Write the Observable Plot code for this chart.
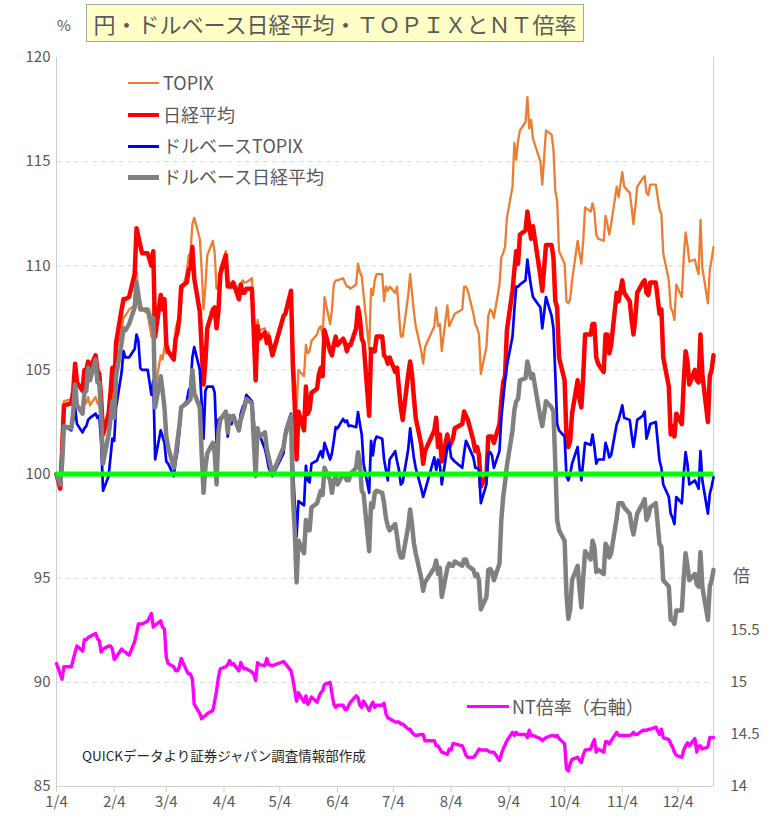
<!DOCTYPE html>
<html lang="ja">
<head>
<meta charset="utf-8">
<script src="https://cdn.jsdelivr.net/npm/d3@7"></script>
<script src="https://cdn.jsdelivr.net/npm/@observablehq/plot@0.6"></script>
<style>
html,body{margin:0;padding:0;background:#fff;}
#wrap{position:relative;width:775px;height:820px;overflow:hidden;font-family:"Noto Sans CJK JP","Noto Sans",sans-serif;color:#595959;}
#chart{position:absolute;left:0;top:0;}
.abs{position:absolute;white-space:nowrap;}
#title{left:86px;top:4px;width:498px;height:38px;box-sizing:border-box;background:#ffffc6;border:1px solid #a6a6a6;font-size:22px;line-height:36px;text-align:center;color:#595959;}
.lgline{position:absolute;}
.lgtext{position:absolute;font-size:18px;line-height:22px;color:#595959;white-space:nowrap;}
</style>
</head>
<body>
<div id="wrap">
  <div id="chart"></div>
  <div class="abs" id="title">円・ドルベース日経平均・ＴＯＰＩＸとＮＴ倍率</div>
  <div class="abs" style="left:57px;top:16px;font-size:15px;line-height:18px;">%</div>
  <div class="abs" style="left:733px;top:565px;font-size:17px;line-height:20px;">倍</div>
  <div class="abs" style="left:82px;top:747px;font-size:13.5px;line-height:16px;color:#262626;">QUICKデータより証券ジャパン調査情報部作成</div>
</div>
<script>
// ---- data (2021, % of 1/4 level; NT ratio in 倍) ----
const dates = [
"1/4","1/6","1/7","1/8","1/12","1/13","1/14","1/15","1/18","1/19","1/20","1/21","1/22","1/25","1/26","1/27","1/28","1/29",
"2/1","2/2","2/3","2/4","2/5","2/8","2/9","2/10","2/12","2/15","2/16","2/17","2/18","2/19","2/22","2/24","2/25","2/26",
"3/1","3/2","3/3","3/4","3/5","3/8","3/9","3/10","3/11","3/12","3/15","3/16","3/17","3/18","3/19","3/22","3/23","3/24","3/25","3/26","3/29","3/30","3/31",
"4/1","4/2","4/5","4/6","4/7","4/8","4/9","4/12","4/13","4/14","4/15","4/16","4/19","4/20","4/21","4/22","4/23","4/26","4/27","4/28","4/30",
"5/6","5/7","5/10","5/11","5/12","5/13","5/14","5/17","5/18","5/19","5/20","5/21","5/24","5/25","5/26","5/27","5/28","5/31",
"6/1","6/2","6/3","6/4","6/7","6/8","6/9","6/10","6/11","6/14","6/15","6/16","6/17","6/18","6/21","6/22","6/23","6/24","6/25","6/28","6/29","6/30",
"7/1","7/2","7/5","7/6","7/7","7/8","7/9","7/12","7/13","7/14","7/15","7/16","7/19","7/20","7/21","7/26","7/27","7/28","7/29","7/30",
"8/2","8/3","8/4","8/5","8/6","8/10","8/11","8/12","8/13","8/16","8/17","8/18","8/19","8/20","8/23","8/24","8/25","8/26","8/27","8/30","8/31",
"9/1","9/2","9/3","9/6","9/7","9/8","9/9","9/10","9/13","9/14","9/15","9/16","9/17","9/21","9/22","9/24","9/27","9/28","9/29","9/30",
"10/1","10/4","10/5","10/6","10/7","10/8","10/11","10/12","10/13","10/14","10/15","10/18","10/19","10/20","10/21","10/22","10/25","10/26","10/27","10/28","10/29",
"11/1","11/2","11/4","11/5","11/8","11/9","11/10","11/11","11/12","11/15","11/16","11/17","11/18","11/19","11/22","11/24","11/25","11/26","11/29","11/30",
"12/1","12/2","12/3","12/6","12/7","12/8","12/9","12/10","12/13","12/14","12/15","12/16","12/17","12/20","12/21","12/22","12/23"
];
const topix = [
100,100.0,102.0,103.5,103.6,103.7,104.5,103.2,103.2,103.4,103.4,103.7,103.3,103.7,103.4,103.3,102.9,101.0,
101.8,102.7,104.1,103.7,105.9,106.9,107.5,107.6,107.9,108.1,109.7,108.7,108.3,107.9,107.7,106.6,108.2,104.1,
105.7,105.5,106.1,105.8,105.9,105.7,107.0,107.3,107.7,108.6,109.7,110.5,110.6,112.0,112.3,111.3,109.8,107.9,109.0,110.5,111.2,110.6,108.9,
108.9,109.9,110.7,109.6,108.9,109.2,109.1,108.9,109.1,109.3,109.2,109.2,109.4,107.5,105.6,107.4,106.9,107.0,106.3,106.8,106.0,
107.5,107.8,108.8,106.2,104.6,103.2,105.0,104.7,106.2,105.8,105.9,106.4,106.7,107.0,107.1,106.6,108.5,107.2,
107.9,109.1,109.3,109.3,109.4,109.2,109.0,109.0,108.9,109.1,110.1,109.7,109.5,108.6,106.0,108.9,108.6,109.3,109.6,109.6,108.3,109.0,
108.8,109.0,108.7,109.0,107.7,106.6,106.6,108.6,109.6,108.7,107.8,107.1,105.9,105.3,106.1,107.1,108.0,107.1,107.2,105.9,
108.1,107.1,107.3,107.5,107.7,107.9,109.0,109.0,108.8,107.7,107.2,107.0,106.7,104.8,106.1,107.6,107.9,107.8,107.5,109.1,110.4,
110.6,110.9,112.3,113.8,115.9,115.1,116.0,116.5,116.9,118.1,116.6,117.0,116.1,115.0,113.9,116.5,116.3,115.6,113.6,113.1,
110.7,110.1,108.3,108.2,108.4,109.3,111.2,110.6,110.1,111.2,112.8,112.6,113.0,112.6,111.5,111.3,111.2,112.4,112.0,111.5,112.0,
113.8,113.3,114.5,113.8,113.5,112.8,112.0,112.8,113.8,114.2,114.3,113.5,113.4,113.9,113.9,112.7,112.5,110.6,109.3,108.0,
107.8,107.4,109.1,108.5,110.4,111.6,111.0,110.2,110.3,109.9,109.6,112.2,109.9,108.2,109.8,110.3,110.9
];
const nikkei = [
100,99.3,101.0,103.3,103.4,104.0,105.3,104.4,104.0,105.0,105.0,105.4,105.1,105.7,105.0,104.8,103.6,101.9,
102.9,103.9,105.1,104.0,106.3,107.9,108.4,108.4,108.5,109.6,111.8,111.4,111.0,110.6,110.6,110.0,110.7,106.6,
108.6,107.9,108.4,106.2,105.9,105.5,106.5,106.8,107.5,109.0,109.2,109.8,109.9,110.9,109.4,107.8,106.0,104.3,105.4,107.0,107.9,108.0,107.0,
107.8,109.6,110.5,109.0,109.1,109.0,109.2,108.4,109.1,108.7,108.7,108.9,108.9,106.8,104.5,107.1,106.5,106.8,106.3,106.6,105.7,
107.6,107.7,108.8,105.2,103.3,100.7,103.0,102.1,104.2,102.9,103.1,103.9,104.1,104.8,105.1,104.7,106.9,105.9,
105.7,106.2,106.6,106.2,106.5,106.3,105.9,106.2,106.2,107.0,108.0,107.5,106.5,106.3,102.8,106.0,105.9,105.9,106.6,106.6,105.7,105.6,
105.3,105.6,104.9,105.1,104.1,103.2,102.6,104.8,105.4,104.8,103.7,102.7,101.4,100.5,101.1,102.1,102.7,101.3,101.9,100.6,
101.9,101.3,101.5,101.7,102.2,102.4,103.0,102.8,102.6,101.6,101.1,101.3,100.9,99.4,99.9,101.8,101.8,101.8,101.5,102.4,103.5,
104.4,104.7,106.9,108.8,109.8,110.7,110.1,111.5,111.7,112.6,111.9,111.3,111.9,109.5,108.8,111.0,111.0,110.4,108.3,108.0,
105.6,104.5,101.8,101.3,101.6,102.9,104.5,103.6,103.2,104.7,106.7,106.7,107.2,107.2,105.6,105.3,104.9,106.7,106.7,105.8,106.2,
108.7,108.3,109.3,108.7,108.3,107.4,106.7,107.5,108.7,109.2,109.3,108.7,108.6,109.2,109.2,107.7,107.9,105.6,104.2,101.9,
102.3,101.8,102.9,102.4,104.4,105.9,105.4,104.3,105.0,104.5,104.4,106.7,104.8,102.5,104.7,105.0,105.7
];
const usdTopix = [
100,99.5,100.5,102.3,102.1,102.6,103.2,102.4,102.0,102.2,102.3,102.6,102.7,102.9,102.7,102.8,101.5,99.2,
99.9,100.8,101.7,101.6,103.2,104.9,105.9,105.6,105.6,106.0,106.7,106.4,105.1,105.0,105.0,103.8,104.5,100.7,
102.1,101.8,101.5,100.6,100.5,99.9,100.6,101.1,102.0,103.2,103.5,104.0,104.2,105.6,106.1,105.0,103.4,101.7,104.0,104.2,104.2,103.9,101.5,
102.6,102.7,102.9,101.8,102.7,102.4,102.8,102.2,102.9,103.2,103.4,103.8,103.5,102.6,100.8,102.0,101.9,101.2,100.8,100.3,99.9,
101.0,102.1,102.9,100.4,98.6,97.0,98.7,98.5,100.4,99.7,99.6,100.5,100.65,100.9,101.1,100.8,101.5,100.7,
101.0,101.6,102.25,102.2,102.65,102.5,102.57,102.3,102.33,102.25,102.97,102.4,101.9,100.5,99.1,101.6,100.9,101.6,101.8,101.7,100.7,100.2,
99.7,100.7,101.1,100.6,100.2,99.5,99.6,101.2,102.2,101.5,100.8,100.3,99.3,98.9,99.2,100.8,100.2,100.7,100.4,99.5,
101.3,101.5,100.8,100.7,100.6,100.3,101.0,101.6,101.4,100.8,100.3,100.3,100.2,98.6,99.5,101.0,101.05,100.9,100.3,101.1,102.7,
103.6,104.5,105.2,106.6,107.9,109.0,109.0,109.1,109.3,110.3,109.6,109.0,108.5,108.0,107.0,108.5,107.6,107.0,104.8,102.4,
102.1,101.8,99.9,99.7,100.0,100.5,101.3,100.3,99.7,100.6,101.5,101.4,101.9,101.3,100.5,100.7,100.7,101.5,101.2,100.8,100.9,
102.4,102.6,103.3,102.7,102.6,101.9,101.3,101.9,102.6,102.8,103.0,101.7,102.0,102.4,102.5,100.65,100.3,99.5,98.9,98.1,
97.9,97.6,98.9,98.6,100.0,101.05,100.5,99.5,99.7,99.5,99.3,101.1,99.7,98.1,99.05,99.4,99.85
];
const usdNikkei = [
100,99.5,100.5,102.3,102.2,103.0,104.3,103.3,102.9,103.9,104.0,105.1,104.5,105.5,104.4,104.4,102.8,100.5,
101.9,102.6,103.5,102.7,104.7,106.3,107.0,106.9,107.2,108.0,109.2,108.6,107.9,107.9,107.9,107.2,107.5,103.2,
104.7,104.0,103.2,101.8,101.3,100.3,100.9,101.6,102.3,103.2,103.4,103.5,103.6,105.0,103.9,103.2,101.0,99.1,100.3,101.0,101.5,101.0,99.5,
102.0,102.6,103.0,102.0,102.8,102.6,102.8,102.1,102.6,102.9,103.2,103.6,103.4,101.6,99.9,102.2,101.8,102.0,101.2,100.8,100.0,
101.3,101.9,102.8,98.9,97.3,94.8,96.8,96.2,97.8,97.3,97.3,98.4,98.6,98.9,99.2,99.0,100.3,99.7,
99.1,99.7,99.9,99.5,100.0,99.9,99.7,99.7,100.0,100.3,101.05,100.6,99.2,99.05,96.3,98.6,98.4,99.1,99.2,99.1,98.6,97.9,
97.5,97.3,97.6,97.0,96.3,96.0,96.0,97.5,98.3,97.6,96.7,96.2,95.0,94.4,94.8,95.5,95.85,95.2,95.5,94.1,
95.5,95.7,95.6,95.6,95.8,95.6,95.9,95.9,95.6,95.4,95.1,95.2,94.9,93.5,94.1,95.4,95.45,95.3,94.9,95.7,97.8,
98.9,99.6,100.4,102.1,103.05,103.5,103.6,104.5,104.6,105.4,105.0,104.6,104.8,102.7,102.3,103.5,103.2,103.0,100.5,97.8,
97.3,96.8,94.25,93.05,93.5,94.9,95.6,94.5,93.6,95.0,96.3,95.9,96.8,96.5,95.3,95.4,95.2,96.65,96.5,96.0,96.2,
97.9,98.6,98.6,98.4,98.1,97.5,97.1,97.6,98.1,98.6,98.8,97.8,98.0,98.4,98.6,96.65,96.5,94.9,94.6,93.0,
93.0,92.8,93.45,93.45,95.0,96.2,95.6,94.9,95.2,94.7,94.6,96.25,94.6,93.0,94.6,94.9,95.4
];
const ntRatio = [
15.18,15.08,15.03,15.15,15.15,15.22,15.29,15.35,15.30,15.41,15.41,15.43,15.44,15.47,15.42,15.40,15.29,15.32,
15.35,15.35,15.32,15.22,15.24,15.32,15.30,15.29,15.26,15.39,15.47,15.56,15.56,15.56,15.59,15.66,15.53,15.55,
15.59,15.53,15.51,15.24,15.18,15.15,15.11,15.11,15.15,15.23,15.11,15.08,15.08,15.03,14.79,14.70,14.65,14.67,14.68,14.70,14.73,14.82,14.92,
15.05,15.13,15.15,15.17,15.21,15.17,15.18,15.11,15.19,15.15,15.13,15.13,15.10,15.08,15.02,15.19,15.17,15.16,15.23,15.17,15.16,
15.20,15.18,15.11,15.03,14.92,14.82,14.90,14.81,14.87,14.79,14.82,14.86,14.81,14.86,14.90,14.92,14.98,15.00,
14.89,14.79,14.76,14.78,14.78,14.74,14.74,14.78,14.81,14.87,14.85,14.78,14.76,14.82,14.73,14.78,14.81,14.76,14.78,14.78,14.80,14.70,
14.66,14.65,14.62,14.62,14.62,14.60,14.60,14.55,14.55,14.52,14.50,14.49,14.50,14.50,14.44,14.44,14.39,14.39,14.36,14.33,
14.31,14.36,14.35,14.41,14.41,14.39,14.35,14.30,14.28,14.28,14.30,14.33,14.36,14.35,14.35,14.34,14.33,14.33,14.33,14.25,14.31,
14.36,14.40,14.44,14.52,14.49,14.52,14.50,14.50,14.50,14.47,14.54,14.49,14.49,14.46,14.44,14.47,14.49,14.49,14.48,14.49,
14.46,14.41,14.17,14.15,14.22,14.26,14.28,14.25,14.23,14.30,14.35,14.36,14.41,14.45,14.33,14.36,14.33,14.43,14.43,14.41,14.44,
14.52,14.49,14.49,14.49,14.49,14.50,14.52,14.50,14.50,14.54,14.54,14.54,14.55,14.55,14.57,14.50,14.55,14.47,14.45,14.41,
14.38,14.33,14.30,14.28,14.35,14.39,14.42,14.39,14.46,14.33,14.39,14.39,14.36,14.38,14.47,14.47,14.47
];
const leftTicks = [85, 90, 95, 100, 105, 110, 115, 120];
const gridValues = [90, 95, 105, 110, 115];
const rightTicks = [14, 14.5, 15, 15.5];
const monthTicks = ["1/4","2/4","3/4","4/4","5/4","6/4","7/4","8/4","9/4","10/4","11/4","12/4"];
const legendLabels = ["TOPIX", "日経平均", "ドルベースTOPIX", "ドルベース日経平均"];
const ntLegend = "NT倍率（右軸）";

// ---- build ----
const YEAR = 2021;
const parse = s => { const [m, d] = s.split("/").map(Number); return new Date(Date.UTC(YEAR, m - 1, d)); };
const ntToLeft = v => 85 + (v - 14) * 5;
const rows = dates.map((s, i) => ({
  date: parse(s), topix: topix[i], nikkei: nikkei[i],
  usdTopix: usdTopix[i], usdNikkei: usdNikkei[i], nt: ntToLeft(ntRatio[i])
}));
const x0 = parse(dates[0]), x1 = parse(dates[dates.length - 1]);
const axisGray = "#cfcfcf";

const chart = Plot.plot({
  width: 775, height: 820,
  marginLeft: 56, marginRight: 62, marginTop: 57, marginBottom: 34,
  style: {fontFamily: '"Noto Sans CJK JP","Noto Sans",sans-serif', fontSize: "15px", color: "#595959", background: "transparent"},
  x: {type: "utc", domain: [x0, x1]},
  y: {domain: [85, 120]},
  marks: [
    Plot.ruleY(gridValues, {stroke: "#d9d9d9", strokeDasharray: "5,4"}),
    Plot.ruleY([85], {stroke: axisGray}),
    Plot.ruleX([x0, x1], {stroke: axisGray}),
    Plot.axisX({ticks: monthTicks.map(parse), tickFormat: d => `${d.getUTCMonth() + 1}/${d.getUTCDate()}`,
      tickSize: 6, tickPadding: 4, stroke: axisGray, label: null}),
    Plot.axisY({ticks: leftTicks, tickSize: 0, tickPadding: 6, label: null}),
    Plot.axisY({anchor: "right", ticks: rightTicks.map(ntToLeft), tickFormat: v => String(+(14 + (v - 85) / 5).toFixed(1)),
      tickSize: 0, tickPadding: 17, label: null}),
    Plot.lineY(rows, {x: "date", y: "topix", stroke: "#ED7D31", strokeWidth: 2.3}),
    Plot.lineY(rows, {x: "date", y: "nikkei", stroke: "#FF0000", strokeWidth: 4.5}),
    Plot.lineY(rows, {x: "date", y: "usdTopix", stroke: "#0000FF", strokeWidth: 2.7}),
    Plot.lineY(rows, {x: "date", y: "usdNikkei", stroke: "#808080", strokeWidth: 4.5}),
    Plot.lineY(rows, {x: "date", y: "nt", stroke: "#FF00FF", strokeWidth: 3.4}),
    Plot.ruleY([100], {stroke: "#00FF00", strokeWidth: 5})
  ]
});
document.getElementById("chart").appendChild(chart);

// ---- legends (HTML) ----
const wrap = document.getElementById("wrap");
const legendStyles = [
  {color: "#ED7D31", w: 2.5, y: 83},
  {color: "#FF0000", w: 4.5, y: 115},
  {color: "#0000FF", w: 3, y: 146},
  {color: "#808080", w: 5, y: 177}
];
legendLabels.forEach((lab, i) => {
  const st = legendStyles[i];
  const ln = document.createElement("div");
  ln.className = "lgline";
  Object.assign(ln.style, {left: "128px", width: "31px", top: (st.y - st.w / 2) + "px", height: st.w + "px", background: st.color});
  wrap.appendChild(ln);
  const tx = document.createElement("div");
  tx.className = "lgtext";
  tx.textContent = lab;
  Object.assign(tx.style, {left: "163px", top: (st.y - 12) + "px"});
  wrap.appendChild(tx);
});
const ntLine = document.createElement("div");
ntLine.className = "lgline";
Object.assign(ntLine.style, {left: "467px", width: "42px", top: "705px", height: "3.4px", background: "#FF00FF"});
wrap.appendChild(ntLine);
const ntText = document.createElement("div");
ntText.className = "lgtext";
ntText.textContent = ntLegend;
Object.assign(ntText.style, {left: "512px", top: "695px", fontSize: "18px"});
wrap.appendChild(ntText);
</script>
</body>
</html>
